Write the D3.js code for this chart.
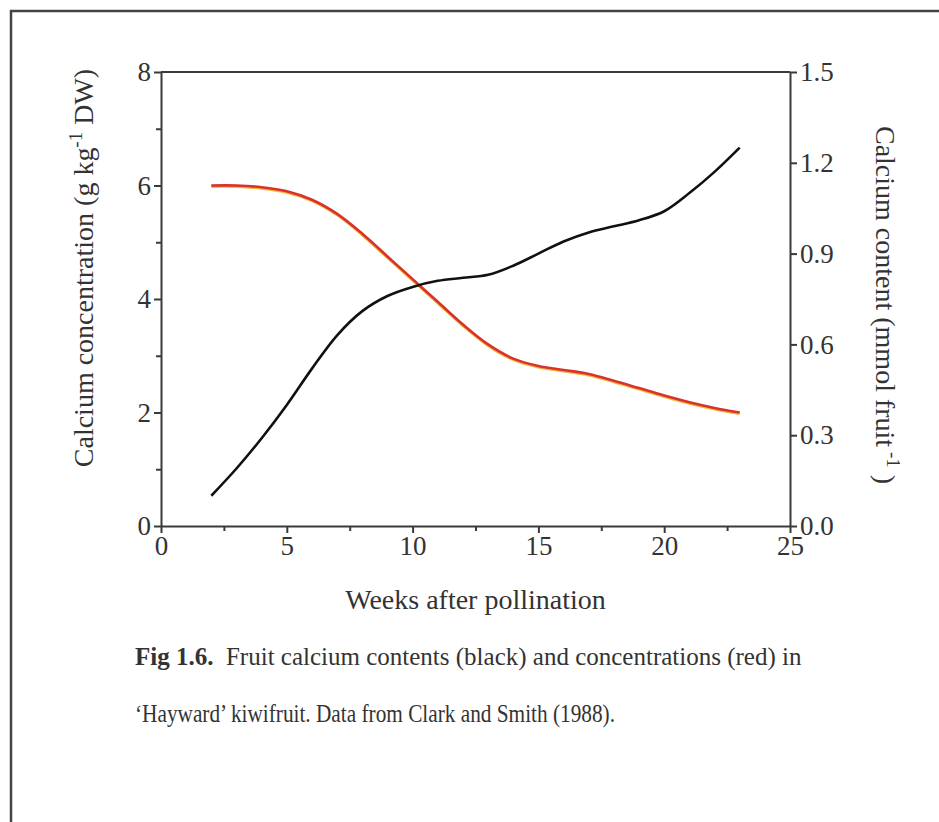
<!DOCTYPE html>
<html>
<head>
<meta charset="utf-8">
<style>
  body { margin: 0; background: #fff; }
  svg { display: block; font-family: "Liberation Serif", "Times New Roman", serif; }
  .axis path, .axis line { stroke: #3a3a3a; stroke-width: 2px; }
  .axis text { font-size: 27px; fill: #333; font-family: "Liberation Serif", serif; }
  .title { font-size: 28px; fill: #333; }
  .caption { font-size: 25px; fill: #333; }
</style>
</head>
<body>
<div id="chart"></div>
<script src="https://cdn.jsdelivr.net/npm/d3@7"></script>
<script>
// weeks after pollination
var weeks = [2, 3, 4, 5, 6, 7, 8, 9, 10, 11, 12, 13, 14, 15, 16, 17, 18, 19, 20, 21, 22, 23];
// calcium concentration, g/kg DW (red, left axis)
var concentration = [6.0, 6.0, 5.97, 5.9, 5.75, 5.5, 5.15, 4.75, 4.35, 3.95, 3.55, 3.2, 2.95, 2.82, 2.75, 2.68, 2.56, 2.43, 2.3, 2.18, 2.08, 2.0];
// calcium content, mmol/fruit (black, right axis)
var content = [0.10, 0.19, 0.29, 0.40, 0.52, 0.63, 0.71, 0.76, 0.79, 0.81, 0.82, 0.83, 0.86, 0.90, 0.94, 0.97, 0.99, 1.01, 1.04, 1.10, 1.17, 1.25];

var xTicks = [0, 5, 10, 15, 20, 25];
var xMinor = [2.5, 7.5, 12.5, 17.5, 22.5];
var leftTicks = [0, 2, 4, 6, 8];
var leftMinor = [1, 3, 5, 7];
var rightTicks = [0, 0.3, 0.6, 0.9, 1.2, 1.5];

var W = 939, H = 822;
var margin = {left: 161, top: 72, right: 149, bottom: 296};
var width = W - margin.left - margin.right,
    height = H - margin.top - margin.bottom;

var svg = d3.select("#chart").append("svg")
    .attr("width", W)
    .attr("height", H);

// outer frame (top + left edge of the figure box)
svg.append("path")
    .attr("d", "M11,822 L11,11 L939,11")
    .attr("fill", "none")
    .attr("stroke", "#444")
    .attr("stroke-width", 2.5);

var g = svg.append("g")
    .attr("transform", "translate(" + margin.left + "," + margin.top + ")");

var x = d3.scaleLinear().domain([0, 25]).range([0, width]);
var yL = d3.scaleLinear().domain([0, 8]).range([height, 0]);
var yR = d3.scaleLinear().domain([0, 1.5]).range([height, 0]);

// minor ticks
g.append("g").attr("class", "axis")
    .attr("transform", "translate(0," + height + ")")
    .call(d3.axisBottom(x).tickValues(xMinor).tickSize(5).tickFormat("").tickSizeOuter(0))
    .select(".domain").remove();
g.append("g").attr("class", "axis")
    .call(d3.axisLeft(yL).tickValues(leftMinor).tickSize(5).tickFormat("").tickSizeOuter(0))
    .select(".domain").remove();

// major axes
g.append("g").attr("class", "axis")
    .attr("transform", "translate(0," + height + ")")
    .call(d3.axisBottom(x).tickValues(xTicks).tickSize(7).tickSizeOuter(0).tickPadding(3));
g.append("g").attr("class", "axis")
    .call(d3.axisLeft(yL).tickValues(leftTicks).tickSize(7).tickSizeOuter(0).tickPadding(3));
g.append("g").attr("class", "axis")
    .attr("transform", "translate(" + width + ",0)")
    .call(d3.axisRight(yR).tickValues(rightTicks).tickSize(7).tickSizeOuter(0).tickPadding(3)
        .tickFormat(d3.format(".1f")));

// top frame line
g.append("line")
    .attr("x1", 0).attr("x2", width)
    .attr("y1", 0).attr("y2", 0)
    .attr("stroke", "#3a3a3a").attr("stroke-width", 2);

// lines
var lineL = d3.line()
    .x(function (d, i) { return x(weeks[i]); })
    .y(function (d) { return yL(d); })
    .curve(d3.curveCatmullRom);
var lineR = d3.line()
    .x(function (d, i) { return x(weeks[i]); })
    .y(function (d) { return yR(d); })
    .curve(d3.curveCatmullRom);

g.append("path")
    .datum(concentration)
    .attr("d", lineL)
    .attr("fill", "none")
    .attr("stroke", "#f2b43a")
    .attr("stroke-width", 3)
    .attr("transform", "translate(0,1)");
g.append("path")
    .datum(concentration)
    .attr("d", lineL)
    .attr("fill", "none")
    .attr("stroke", "#d8322b")
    .attr("stroke-width", 2.6);

g.append("path")
    .datum(content)
    .attr("d", lineR)
    .attr("fill", "none")
    .attr("stroke", "#111")
    .attr("stroke-width", 2.6);

// axis titles
svg.append("text")
    .attr("class", "title")
    .attr("x", margin.left + width / 2)
    .attr("y", 609)
    .attr("text-anchor", "middle")
    .text("Weeks after pollination");

var lt = svg.append("text")
    .attr("class", "title")
    .attr("text-anchor", "middle")
    .attr("transform", "translate(93,268) rotate(-90)");
lt.append("tspan").text("Calcium concentration (g kg");
lt.append("tspan").attr("dy", -11).attr("font-size", 19).text("-1");
lt.append("tspan").attr("dy", 11).text(" DW)");

var rt = svg.append("text")
    .attr("class", "title")
    .attr("text-anchor", "middle")
    .attr("transform", "translate(876,305) rotate(90)");
rt.append("tspan").text("Calcium content (mmol fruit");
rt.append("tspan").attr("dy", -11).attr("font-size", 19).text(" -1");
rt.append("tspan").attr("dy", 11).text(" )");

// caption
var c1 = svg.append("text")
    .attr("class", "caption")
    .attr("x", 135).attr("y", 665);
c1.append("tspan").attr("font-weight", "bold").text("Fig 1.6.");
c1.append("tspan").text("\u00a0 Fruit calcium contents (black) and concentrations (red) in");

svg.append("text")
    .attr("class", "caption")
    .attr("x", 135).attr("y", 722)
    .attr("textLength", 480)
    .attr("lengthAdjust", "spacingAndGlyphs")
    .text("\u2018Hayward\u2019 kiwifruit. Data from Clark and Smith (1988).");
</script>
</body>
</html>
